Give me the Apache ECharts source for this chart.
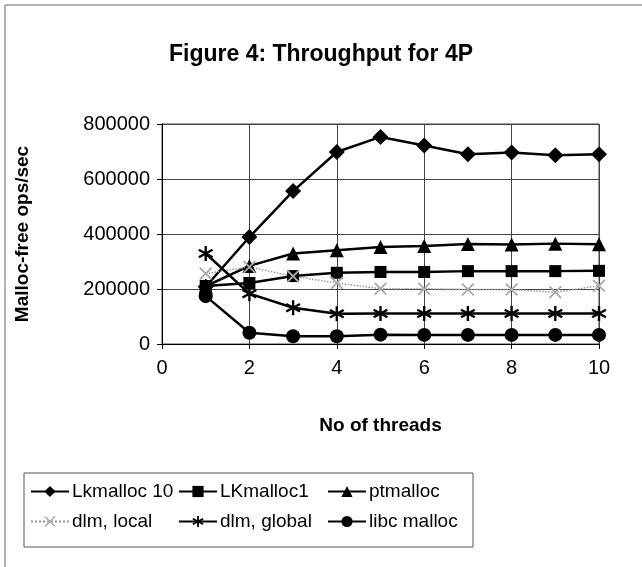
<!DOCTYPE html>
<html>
<head>
<meta charset="utf-8">
<script src="https://cdn.jsdelivr.net/npm/echarts@6/dist/echarts.min.js"></script>
<style>
  html, body { margin: 0; padding: 0; background: #fff; }
  #chart { width: 642px; height: 567px; }
</style>
</head>
<body>
<div id="chart"></div>
<script>
// data
var threads = [1, 2, 3, 4, 5, 6, 7, 8, 9, 10];
var seriesNames = ['Lkmalloc 10', 'LKmalloc1', 'ptmalloc', 'dlm, local', 'dlm, global', 'libc malloc'];
var lk10 = [208000, 389000, 556000, 698000, 753000, 722000, 690000, 696000, 686000, 690000];
var lk1 = [211000, 222000, 247000, 259000, 262000, 262000, 265000, 265000, 265000, 266000];
var ptmalloc = [210000, 284000, 329000, 341000, 353000, 356000, 364000, 362000, 365000, 363000];
var dlmLocal = [256000, 280000, 246000, 222000, 201000, 201000, 198000, 198000, 188000, 212000];
var dlmGlobal = [329000, 183000, 132000, 110000, 111000, 111000, 111000, 111000, 111000, 111000];
var libc = [174000, 41000, 28000, 28000, 34000, 33000, 33000, 33000, 33000, 33000];
var yTicks = [0, 200000, 400000, 600000, 800000];

// asterisk and x markers (filled bars)
var starPath = 'path://M8.5 0L11.5 0L11.5 20L8.5 20Z M2.05 3.7L19.45 13.7L17.95 16.3L0.55 6.3Z M0.55 13.7L17.95 3.7L19.45 6.3L2.05 16.3Z';
var crossPath = 'path://M2 0L20 18L18 20L0 2Z M18 0L20 2L2 20L0 18Z';

function pairs(vals) {
    return threads.map(function (t, i) { return [t, vals[i]]; });
}

var myChart = echarts.init(document.getElementById('chart'));

var black = '#000';
function lineSeries(name, vals, symbol, size) {
    return {
        name: name,
        type: 'line',
        data: pairs(vals),
        symbol: symbol,
        symbolSize: size,
        lineStyle: { color: black, width: 2.5 },
        itemStyle: { color: black },
        animation: false
    };
}

var series = [
    lineSeries(seriesNames[0], lk10, 'diamond', 16),
    lineSeries(seriesNames[1], lk1, 'rect', 12),
    lineSeries(seriesNames[2], ptmalloc, 'triangle', 14),
    {
        name: seriesNames[3],
        type: 'line',
        data: pairs(dlmLocal),
        symbol: crossPath,
        symbolSize: 13,
        lineStyle: { color: '#999', width: 1.5, type: 'dotted' },
        itemStyle: { color: '#aaa' },
        animation: false
    },
    lineSeries(seriesNames[4], dlmGlobal, starPath, 15),
    lineSeries(seriesNames[5], libc, 'circle', 14)
];

var legendCols = [30, 178, 327];
var legendRows = [482, 512];
var legends = seriesNames.map(function (n, i) {
    return {
        data: [n],
        left: legendCols[i % 3],
        top: legendRows[Math.floor(i / 3)],
        padding: 0,
        itemWidth: 38,
        itemHeight: 14,
        selectedMode: false,
        textStyle: { fontFamily: 'Liberation Sans', fontSize: 19, color: black, padding: [0, 0, 0, -2] }
    };
});

var option = {
    backgroundColor: '#fff',
    title: {
        text: 'Figure 4: Throughput for 4P',
        left: 'center',
        top: 38,
        textStyle: { fontFamily: 'Liberation Sans', fontSize: 23, fontWeight: 'bold', color: black }
    },
    graphic: [
        { type: 'rect', shape: { x: 5, y: 5, width: 640, height: 570 }, style: { fill: null, stroke: '#666', lineWidth: 1 } },
        { type: 'rect', shape: { x: 24, y: 473, width: 449, height: 74 }, style: { fill: null, stroke: '#555', lineWidth: 1 } }
    ],
    legend: legends,
    grid: {
        left: 162,
        top: 124,
        width: 437,
        height: 220,
        show: true,
        borderColor: '#444',
        borderWidth: 1
    },
    xAxis: {
        type: 'value',
        min: 0,
        max: 10,
        interval: 2,
        name: 'No of threads',
        nameLocation: 'middle',
        nameGap: 72,
        nameTextStyle: { fontFamily: 'Liberation Sans', fontSize: 19, fontWeight: 'bold', color: black },
        axisLine: { show: true, lineStyle: { color: black } },
        axisTick: { show: true, length: 5, lineStyle: { color: black } },
        axisLabel: { fontFamily: 'Liberation Sans', fontSize: 20, color: black, margin: 14 },
        splitLine: { show: true, lineStyle: { color: '#444', width: 1 } }
    },
    yAxis: {
        type: 'value',
        min: yTicks[0],
        max: yTicks[yTicks.length - 1],
        interval: yTicks[1] - yTicks[0],
        name: 'Malloc-free ops/sec',
        nameLocation: 'middle',
        nameGap: 130,
        nameTextStyle: { fontFamily: 'Liberation Sans', fontSize: 19, fontWeight: 'bold', color: black },
        axisLine: { show: true, lineStyle: { color: black } },
        axisTick: { show: true, length: 5, lineStyle: { color: black } },
        axisLabel: {
            fontFamily: 'Liberation Sans', fontSize: 20, color: black, margin: 12,
            formatter: function (v) { return String(v); }
        },
        splitLine: { show: true, lineStyle: { color: '#444', width: 1 } }
    },
    series: series
};

myChart.setOption(option);
</script>
</body>
</html>
